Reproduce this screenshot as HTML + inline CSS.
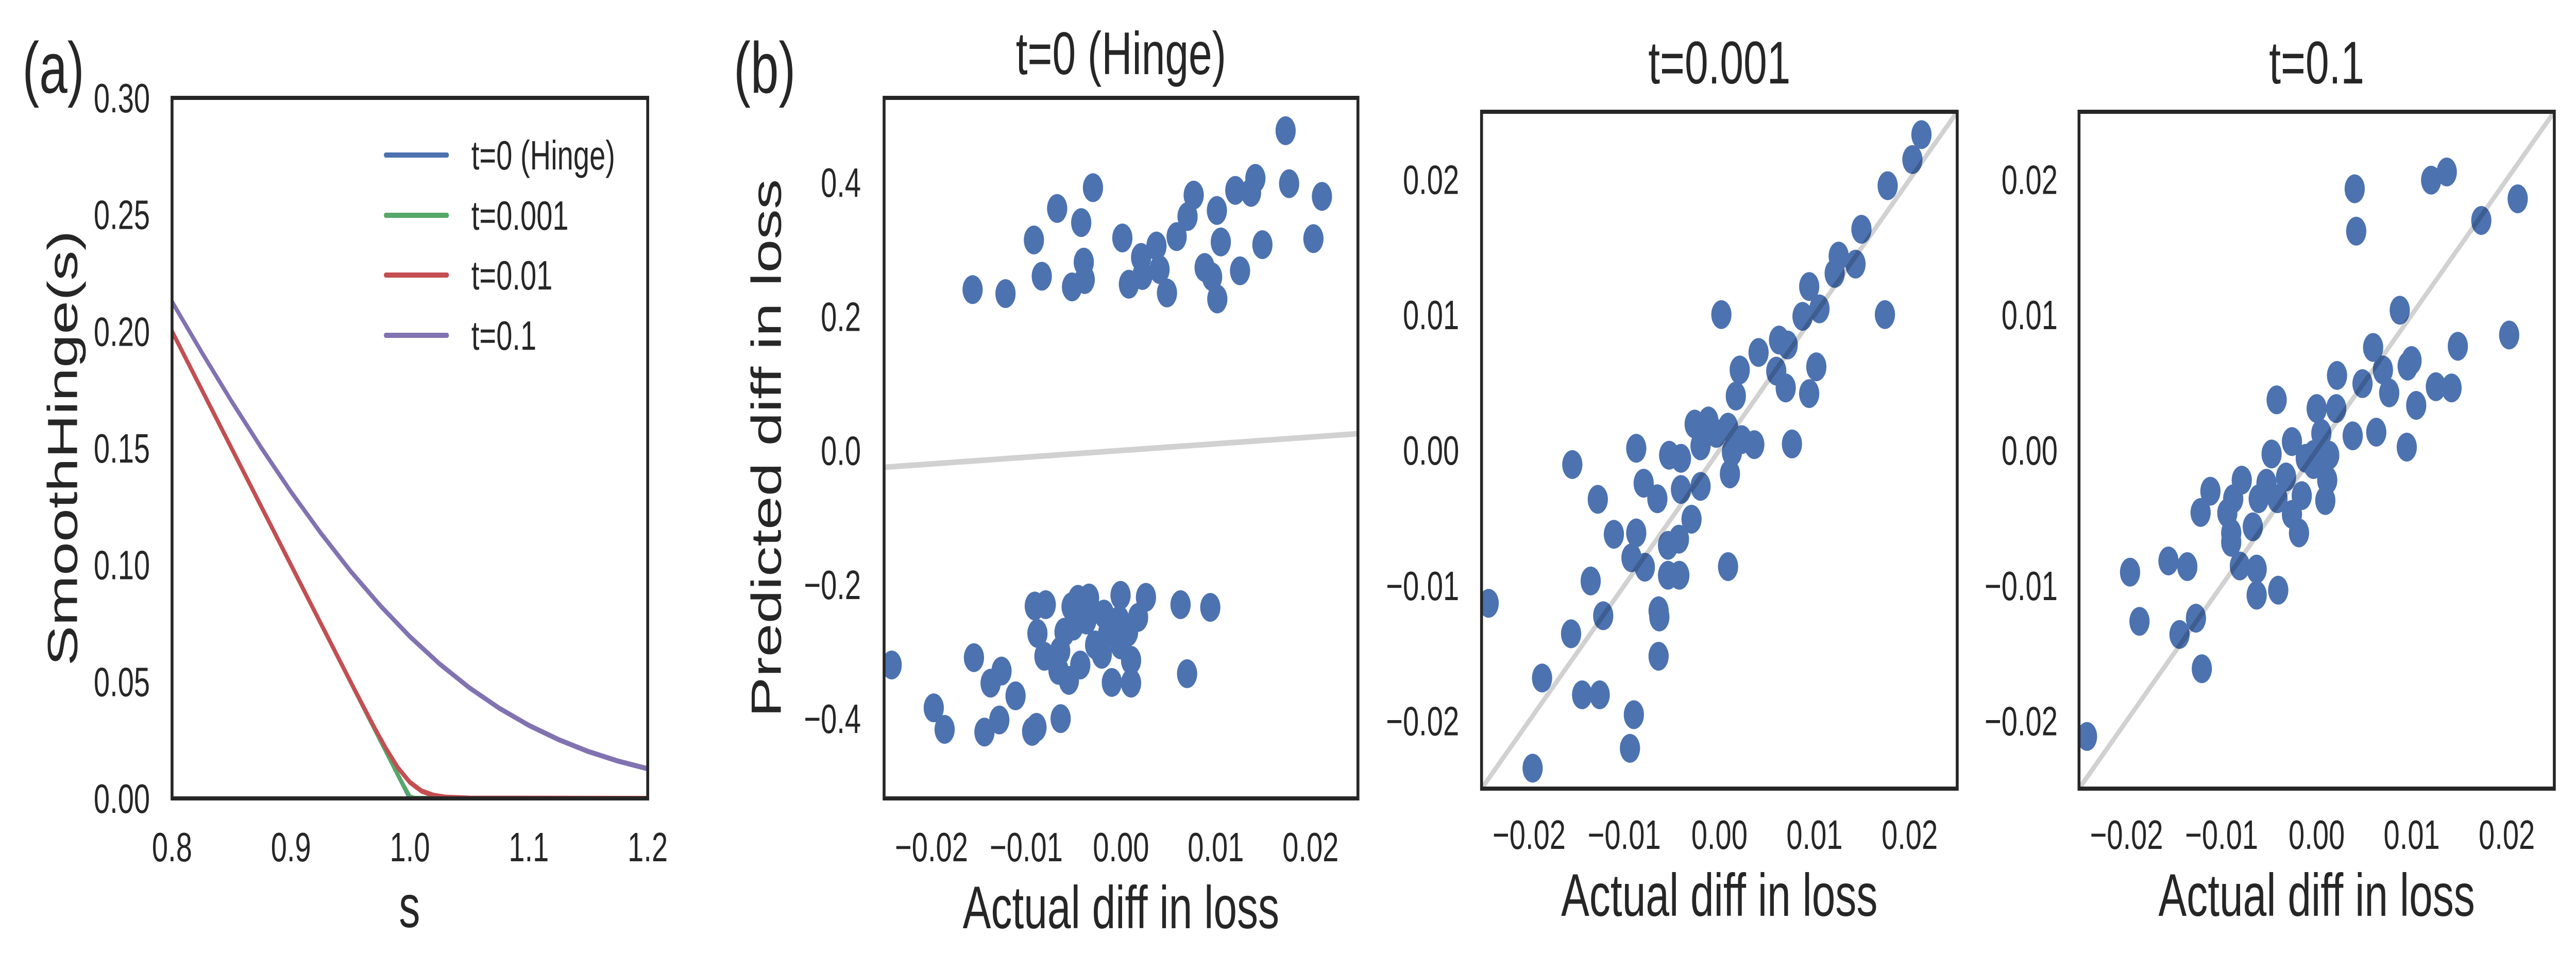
<!DOCTYPE html>
<html><head><meta charset="utf-8"><style>
html,body{margin:0;padding:0;background:#fff;overflow:hidden}
svg{display:block;width:100vw;height:100vh}
svg text{font-family:"Liberation Sans",Arial,sans-serif;fill:#262626}
</style></head><body>
<svg id="fig" xmlns="http://www.w3.org/2000/svg" viewBox="0 0 7127 1887" preserveAspectRatio="none">
<rect width="7127" height="1887" fill="#fff"/>
<g id="root"></g>
</svg>
<script>
// ---------- Panel (a) data ----------
const sGrid = [0.8,0.825,0.85,0.875,0.9,0.925,0.95,0.975,1.0,1.025,1.05,1.075,1.1,1.125,1.15,1.175,1.2];
const hingeS = [0.8,1.0,1.2];
const hingeV = [0.2,0.0,0.0];
const t001S = [0.8,0.9,0.99,0.995,1.0,1.003,1.006,1.2];
const t001V = [0.2,0.1,0.01,0.0053,0.0007,0.0001,0.0,0.0];
const t01S = [0.8,0.9,0.95,0.97,0.98,0.99,1.0,1.01,1.02,1.03,1.05,1.2];
const t01V = [0.2,0.1,0.0501,0.0305,0.0213,0.0131,0.0069,0.0031,0.0013,0.0005,0.0001,0.0];
const t1V = [0.2127,0.1910,0.1701,0.1502,0.1313,0.1137,0.0974,0.0826,0.0693,0.0576,0.0474,0.0387,0.0313,0.0252,0.0201,0.0160,0.0127];
const aXTicks = [0.8,0.9,1.0,1.1,1.2];
const aYTicks = [0,0.05,0.1,0.15,0.2,0.25,0.3];
const legendLabels = ["t=0 (Hinge)","t=0.001","t=0.01","t=0.1"];
// ---------- Panel (b) data ----------
const b1X = [0.01737,0.01774,0.0212,0.0203,0.01418,0.01372,0.01206,0.01492,0.01256,0.01012,0.01053,0.00767,0.00702,0.00587,0.00882,0.00961,0.01016,0.00374,0.00406,0.00485,0.00212,0.00226,0.00083,0.00014,-0.00296,-0.00674,-0.0042,-0.00919,-0.00836,-0.00393,-0.00383,-0.00517,-0.01219,-0.01566,
-0.0242,-0.01976,-0.01861,-0.01552,-0.01441,-0.01284,-0.01376,-0.01261,-0.01113,-0.00938,-0.00892,-0.00637,-0.00882,-0.0091,-0.00794,-0.00808,-0.00642,-0.0066,-0.0055,-0.0043,-0.00522,-0.00453,-0.00337,-0.00365,-0.00273,-0.00203,-0.00097,-0.00005,-0.00005,-0.00018,0.00106,0.00106,0.0018,0.00263,0.00628,0.00697,0.00942,0.00074,-0.00134,-0.00503,-0.00596,-0.0018];
const b1Y = [0.477,0.398,0.379,0.316,0.406,0.385,0.388,0.307,0.268,0.358,0.311,0.381,0.349,0.319,0.273,0.259,0.226,0.305,0.270,0.235,0.288,0.261,0.248,0.317,0.392,0.361,0.340,0.314,0.260,0.281,0.255,0.244,0.234,0.240,
-0.320,-0.384,-0.416,-0.309,-0.420,-0.402,-0.347,-0.329,-0.366,-0.419,-0.413,-0.400,-0.273,-0.232,-0.230,-0.307,-0.299,-0.328,-0.343,-0.320,-0.233,-0.222,-0.220,-0.253,-0.290,-0.304,-0.346,-0.290,-0.216,-0.253,-0.313,-0.347,-0.249,-0.219,-0.230,-0.333,-0.234,-0.271,-0.271,-0.262,-0.271,-0.244];
const b2X = [0.02124,0.02029,0.01769,0.01493,0.01431,0.01254,0.01212,0.0174,0.00944,0.01052,0.00874,0.01019,0.00944,0.00697,0.00718,0.00627,0.00598,0.00412,0.00763,0.00367,0.00214,0.00173,0.00021,0.00235,0.00111,-0.00115,-0.0026,-0.00198,-0.00033,0.00091,0.00132,-0.00198,-0.00404,-0.00404,-0.00528,-0.00652,-0.00293,-0.00425,-0.0054,-0.00796,-0.00874,-0.00874,-0.00924,-0.00784,-0.01109,-0.01278,-0.01546,-0.01353,-0.01221,-0.01559,-0.02425,-0.01864,-0.01443,-0.01258,-0.00639,-0.00631,-0.00639,-0.00899,-0.0094,-0.01963,0.00091,-0.00421,-0.0054];
const b2Y = [0.02331,0.02147,0.01954,0.01632,0.01375,0.01434,0.01306,0.01002,0.01209,0.01044,0.00989,0.00616,0.00418,0.0046,0.00777,0.00814,0.00584,0.00722,0.00046,0.00041,0.00593,0.004,0.01002,0.00078,-0.00175,0.00216,0.00193,0.00032,0.00124,0.0017,-0.00014,-0.00267,-0.0029,-0.0006,-0.00037,-0.00359,-0.0051,-0.00657,-0.00703,-0.00244,0.00014,-0.00611,-0.00795,-0.00864,-0.00621,-0.00363,-0.00106,-0.00966,-0.01223,-0.01356,-0.01131,-0.01683,-0.01807,-0.01807,-0.01186,-0.01232,-0.01522,-0.01954,-0.02202,-0.02349,-0.0086,-0.00924,-0.00924];
const b3X = [-0.02416,0.004,0.00416,0.01204,0.01369,0.02115,0.01732,0.00874,0.02025,0.01485,0.00594,0.00998,0.00957,0.00697,0.00763,0.00214,0.00482,0.01047,0.01254,0.01419,-0.00421,0,0.00206,0.00379,0.00627,0.00948,-0.0026,0.00049,0.00132,-0.00474,-0.00322,-0.00033,0.00111,-0.00157,0.00091,-0.0026,-0.00186,-0.00412,-0.0061,-0.00672,-0.00788,-0.01118,-0.00878,-0.0094,-0.01221,-0.00899,-0.00899,-0.00808,-0.00631,-0.00631,-0.00404,-0.01559,-0.01361,-0.01963,-0.01864,-0.0127,-0.01443,-0.01208,-0.00033,-0.00115,-0.00528];
const b3Y = [-0.02115,0.01931,0.01618,0.01995,0.02055,0.01857,0.01697,0.01034,0.00851,0.00768,0.00759,0.00662,0.00621,0.00593,0.00423,0.00552,0.00492,0.00331,0.00469,0.0046,0.00372,0.00308,0.00308,0.00106,0.00133,0.00023,0.00064,0.00124,-0.00037,-0.00028,-0.00198,-0.00106,-0.00221,-0.00336,-0.00372,-0.00474,-0.00611,-0.00359,-0.00359,-0.00566,-0.00221,-0.00303,-0.00359,-0.00464,-0.0046,-0.00611,-0.0068,-0.00855,-0.00878,-0.01071,-0.01034,-0.00818,-0.0086,-0.00901,-0.01264,-0.01241,-0.01361,-0.01614,-0.00032,-0.0006,-0.00244];
const bXTicks = [-0.02,-0.01,0,0.01,0.02];
const bXTickLabels = ["−0.02","−0.01","0.00","0.01","0.02"];
const b1YTicks = [-0.4,-0.2,0,0.2,0.4];
const b1YTickLabels = ["−0.4","−0.2","0.0","0.2","0.4"];
const b23YTicks = [-0.02,-0.01,0,0.01,0.02];
const b23YTickLabels = ["−0.02","−0.01","0.00","0.01","0.02"];

const NS="http://www.w3.org/2000/svg";
const root=document.getElementById('root');
function mk(tag,attrs,parent){const e=document.createElementNS(NS,tag);for(const k in attrs)e.setAttribute(k,attrs[k]);(parent||root).appendChild(e);return e;}
function txt(s,x,y,size,anchor,parent,rot){const e=mk('text',{x:x,y:y,'font-size':size,'text-anchor':anchor||'middle'},parent);if(rot)e.setAttribute('transform','rotate(-90 '+x+' '+y+')');e.textContent=s;return e;}
function scale(d0,d1,p0,p1){return v=>p0+(v-d0)/(d1-d0)*(p1-p0);}

// ---------- Panel (a) ----------
(function(){
  const L=476,R=1792,T=190,B=1550;
  const g=mk('g',{});
  
  
  const sx=scale(0.8,1.2,L,R), sy=scale(0,0.3,B,T);
  const cp=mk('clipPath',{id:'clipA'},g); mk('rect',{x:L,y:T,width:R-L,height:B-T},cp);
  const series=[[hingeS,hingeV,'#4C72B0','hinge-line'],[t001S,t001V,'#55A868','t0001-line'],[t01S,t01V,'#C44E52','t001-line'],[sGrid,t1V,'#8172B2','t01-line']];
  series.forEach(s=>{
    const pts=s[0].map((v,i)=>sx(v).toFixed(1)+','+sy(s[1][i]).toFixed(1)).join(' ');
    const p=mk('polyline',{points:pts,fill:'none',stroke:s[2],'stroke-width':10,'clip-path':'url(#clipA)','stroke-linejoin':'round'},g);
    
    
  });
  mk('rect',{x:L,y:T,width:R-L,height:B-T,fill:'none',stroke:'#262626','stroke-width':8},g);
  aXTicks.forEach(v=>{const t=txt(v.toFixed(1),sx(v),1672,80,'middle',g);
    
    });
  aYTicks.forEach(v=>{const t=txt(v.toFixed(2),415,sy(v)+28,80,'end',g);
    
    });
  const xl=txt('s',1133,1800,117,'middle',g);
  
  
  const yl=txt('SmoothHinge(s)',213,870,117,'middle',g,true);
  
  
  const cols=['#4C72B0','#55A868','#C44E52','#8172B2'];
  const lys=[301,418,534,651];
  legendLabels.forEach((lab,i)=>{
    const ln=mk('line',{x1:1067,x2:1237,y1:lys[i],y2:lys[i],stroke:cols[i],'stroke-width':10,'stroke-linecap':'round'},g);
    
    
    const t=txt(lab,1304,lys[i]+28,80,'start',g);
    
    
  });
  const pl=txt('(a)',62,180,140,'start',g);
  
  
})();

// ---------- Panel (b) scatters ----------
function scatter(id,L,R,T,B,ylo,yhi,xs,ys,yTicks,yLabels,yLabRight,title,titleY,xlabY){
  const g=mk('g',{});
  
  
  const sx=scale(-0.025,0.025,L,R), sy=scale(ylo,yhi,B,T);
  const cp=mk('clipPath',{id:'clip'+id},g); mk('rect',{x:L,y:T,width:R-L,height:B-T},cp);
  const pg=mk('g',{'clip-path':'url(#clip'+id+')'},g);
  xs.forEach((x,i)=>{
    const c=mk('circle',{cx:sx(x).toFixed(1),cy:sy(ys[i]).toFixed(1),r:28,fill:'#4C72B0'},pg);
    
    
  });
  const ln=mk('line',{x1:sx(-0.025),y1:sy(-0.025),x2:sx(0.025),y2:sy(0.025),stroke:'rgba(0,0,0,0.18)','stroke-width':11},pg);
  
  
  mk('rect',{x:L,y:T,width:R-L,height:B-T,fill:'none',stroke:'#262626','stroke-width':8},g);
  bXTicks.forEach((v,i)=>{const t=txt(bXTickLabels[i],sx(v),xlabY,80,'middle',g);
    
    });
  yTicks.forEach((v,i)=>{const t=txt(yLabels[i],yLabRight,sy(v)+28,80,'end',g);
    
    });
  const tt=txt(title,(L+R)/2,titleY,117,'middle',g);
  
  
  const xl=txt('Actual diff in loss',(L+R)/2,xlabY+130,117,'middle',g);
  
  
  return g;
}
scatter('b1',2446,3757,190,1550,-0.519,0.526,b1X,b1Y,b1YTicks,b1YTickLabels,2382,'t=0 (Hinge)',144,1672);
scatter('b2',4099,5415,217,1531,-0.025,0.025,b2X,b2Y,b23YTicks,b23YTickLabels,4037,'t=0.001',162,1648);
scatter('b3',5752,7067,217,1531,-0.025,0.025,b3X,b3Y,b23YTicks,b23YTickLabels,5693,'t=0.1',162,1648);
const yl=txt('Predicted diff in loss',2160,870,117,'middle',root,true);


const pb=txt('(b)',2030,180,140,'start',root);


</script>
</body></html>
